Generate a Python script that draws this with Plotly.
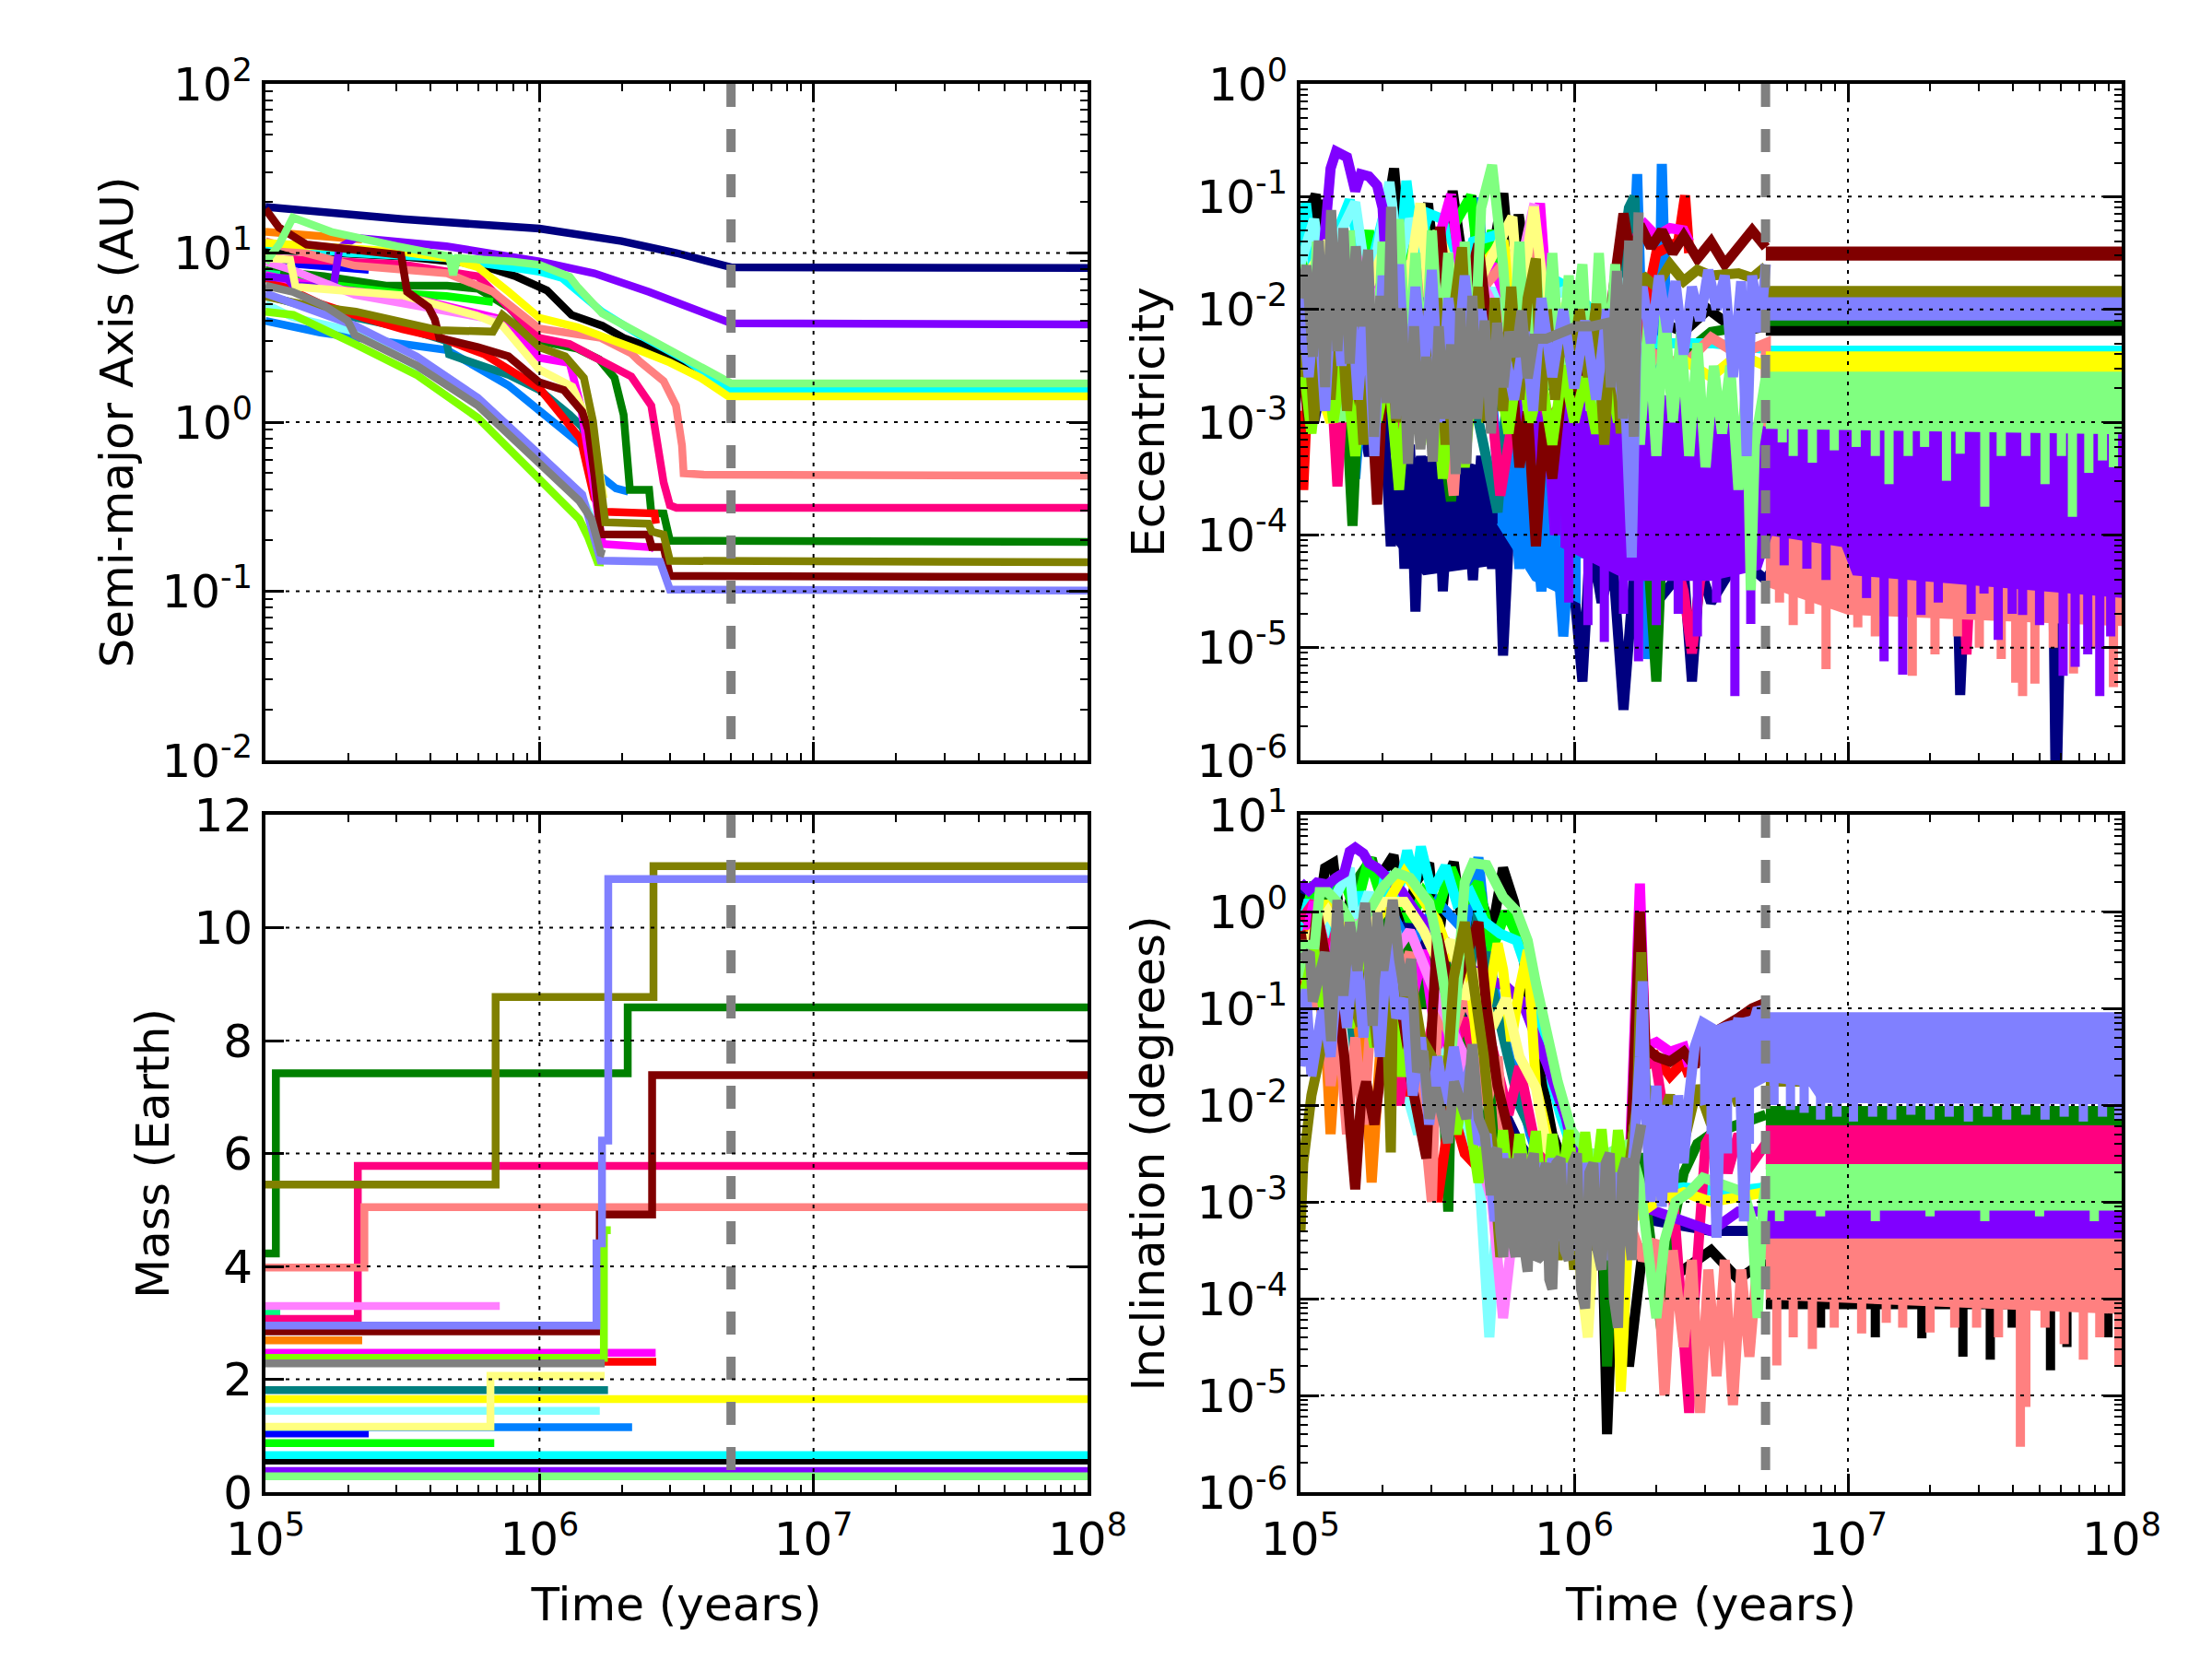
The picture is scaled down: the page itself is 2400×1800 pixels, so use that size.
import plotly.graph_objects as go

# ---------------------------------------------------------------------------
# Series (plot order, bottom -> top) and colours
# ---------------------------------------------------------------------------
NAMES = ['black', 'navy', 'blue', 'dodger', 'teal', 'green', 'lime', 'spring', 'cyan', 'lcyan',
         'red', 'dpink', 'magenta', 'orange', 'salmon', 'purple', 'pink', 'yellow', 'lyellow',
         'maroon', 'lgreen', 'chart', 'olive', 'peri', 'gray']
COLORS = ['#000000', '#000080', '#0000ff', '#0080ff', '#008080', '#008000', '#00ff00', '#00ff80',
          '#00ffff', '#80ffff', '#ff0000', '#ff0080', '#ff00ff', '#ff8000', '#ff8080', '#8000ff',
          '#ff80ff', '#ffff00', '#ffff80', '#800000', '#80ff80', '#80ff00', '#808000', '#8080ff',
          '#808080']

# ---------------------------------------------------------------------------
# Semi-major axis: (log10 time [yr], log10 a [AU])
# ---------------------------------------------------------------------------
SMA_NAVY = [(5.0, 1.272), (5.5, 1.2), (6.0, 1.144), (6.3, 1.07), (6.5, 1.0), (6.61, 0.958), (6.7, 0.915), (8.0, 0.912)]
SMA_PURPLE = [(5.0, 0.86), (5.08, 0.85), (5.1, 0.81), (5.2, 0.80), (5.25, 0.82), (5.27, 1.03), (5.33, 1.09),
              (5.66, 1.04), (6.0, 0.95), (6.2, 0.88), (6.4, 0.77), (6.6, 0.65), (6.7, 0.585), (8.0, 0.578)]
SMA_LGREEN = [(5.0, 0.944), (5.05, 1.05), (5.1, 1.21), (5.24, 1.125), (5.48, 1.04), (5.6, 1.0), (5.67, 0.98),
              (5.685, 0.87), (5.7, 0.97), (5.9, 0.95), (6.0, 0.93), (6.11, 0.86), (6.14, 0.797), (6.229, 0.643),
              (6.364, 0.525), (6.532, 0.371), (6.689, 0.243), (6.7, 0.229), (8.0, 0.229)]
SMA_CYAN = [(5.0, 1.05), (5.3, 1.0), (5.66, 0.97), (5.8, 0.94), (6.0, 0.89), (6.083, 0.852), (6.229, 0.652),
            (6.364, 0.516), (6.532, 0.37), (6.689, 0.198), (6.7, 0.192), (8.0, 0.192)]
SMA_BLACK = [(5.0, 1.02), (5.3, 1.0), (5.5, 0.98), (5.775, 0.934), (5.915, 0.861), (6.027, 0.779), (6.083, 0.679),
             (6.117, 0.634), (6.229, 0.57), (6.307, 0.498), (6.386, 0.452), (6.5, 0.36), (6.689, 0.2), (6.7, 0.19),
             (8.0, 0.19)]
SMA_YELLOW = [(5.0, 1.06), (5.3, 1.03), (5.5, 1.007), (5.66, 0.97), (5.775, 0.916), (5.887, 0.771), (6.0, 0.616),
              (6.139, 0.561), (6.251, 0.498), (6.364, 0.425), (6.476, 0.352), (6.588, 0.262), (6.689, 0.153),
              (8.0, 0.153)]
SMA_SALMON = [(5.0, 1.07), (5.1, 1.02), (5.326, 0.925), (5.663, 0.88), (5.83, 0.771), (6.0, 0.553),
              (6.224, 0.498), (6.335, 0.407), (6.364, 0.361), (6.453, 0.243), (6.498, 0.098), (6.52, -0.138),
              (6.526, -0.302), (6.6, -0.311), (8.0, -0.316)]
SMA_DPINK = [(5.0, 0.97), (5.326, 0.952), (5.495, 0.934), (5.775, 0.862), (6.0, 0.498), (6.11, 0.462),
             (6.223, 0.371), (6.335, 0.27), (6.408, 0.098), (6.431, -0.138), (6.453, -0.356), (6.476, -0.492),
             (6.5, -0.507), (8.0, -0.507)]
SMA_GREEN = [(5.0, 0.898), (5.214, 0.862), (5.44, 0.807), (5.663, 0.807), (5.775, 0.789), (5.887, 0.68),
             (6.0, 0.48), (6.139, 0.434), (6.218, 0.371), (6.274, 0.262), (6.307, 0.044), (6.324, -0.374),
             (6.33, -0.401), (6.4, -0.401), (6.408, -0.538), (6.453, -0.54), (6.476, -0.701), (8.0, -0.708)]
SMA_OLIVE = [(5.0, 0.743), (5.16, 0.689), (5.33, 0.653), (5.5, 0.589), (5.63, 0.544), (5.83, 0.535),
             (5.865, 0.634), (5.915, 0.57), (6.0, 0.443), (6.094, 0.389), (6.162, 0.262), (6.195, 0.007),
             (6.24, -0.592), (6.397, -0.6), (6.41, -0.647), (6.453, -0.665), (6.476, -0.82), (8.0, -0.828)]
SMA_MAROON = [(5.0, 1.26), (5.05, 1.15), (5.15, 1.05), (5.36, 1.007), (5.495, 0.989), (5.517, 0.771),
              (5.55, 0.734), (5.595, 0.68), (5.618, 0.607), (5.635, 0.498), (5.775, 0.444), (5.887, 0.389),
              (6.0, 0.235), (6.089, 0.19), (6.156, 0.062), (6.178, -0.047), (6.201, -0.319), (6.223, -0.664),
              (6.397, -0.665), (6.41, -0.738), (6.453, -0.738), (6.476, -0.91), (8.0, -0.916)]
SMA_PERI = [(5.0, 0.762), (5.326, 0.571), (5.551, 0.389), (5.775, 0.144), (6.0, -0.192), (6.156, -0.428),
            (6.223, -0.819), (6.44, -0.825), (6.476, -0.99), (8.0, -0.996)]
SMA_GRAY = [(5.0, 0.807), (5.1, 0.77), (5.214, 0.689), (5.3, 0.60), (5.326, 0.516), (5.551, 0.335),
            (5.775, 0.099), (6.0, -0.247), (6.145, -0.465), (6.19, -0.573), (6.223, -0.773), (6.238, -0.78)]
SMA_CHART = [(5.0, 0.653), (5.102, 0.634), (5.326, 0.462), (5.551, 0.28), (5.775, 0.026), (6.0, -0.337),
             (6.145, -0.573), (6.178, -0.682), (6.212, -0.828), (6.235, -0.83)]
SMA_LCYAN = [(5.0, 0.698), (5.1, 0.62), (5.326, 0.535), (5.775, 0.126), (6.0, -0.219), (6.156, -0.446),
             (6.2, -0.6), (6.22, -0.7)]
SMA_DODGER = [(5.0, 0.598), (5.1, 0.56), (5.2, 0.53), (5.33, 0.50), (5.45, 0.47), (5.663, 0.426), (5.887, 0.217),
              (6.0, 0.063), (6.11, -0.074), (6.156, -0.138), (6.223, -0.319), (6.279, -0.392), (6.324, -0.41)]
SMA_TEAL = [(5.0, 0.75), (5.2, 0.66), (5.36, 0.607), (5.5, 0.56), (5.66, 0.48), (5.67, 0.40), (5.887, 0.28),
            (6.0, 0.19), (6.11, 0.044), (6.156, -0.029), (6.178, -0.138), (6.212, -0.319), (6.235, -0.55)]
SMA_RED = [(5.0, 0.852), (5.2, 0.70), (5.36, 0.616), (5.5, 0.55), (5.64, 0.498), (5.8, 0.40), (6.0, 0.20),
           (6.15, -0.10), (6.2, -0.45), (6.24, -0.53), (6.42, -0.54), (6.425, -0.6)]
SMA_MAGENTA = [(5.0, 0.87), (5.2, 0.80), (5.5, 0.74), (5.585, 0.716), (5.865, 0.607), (6.0, 0.38), (6.11, 0.35),
               (6.15, 0.1), (6.2, -0.4), (6.23, -0.72), (6.41, -0.74), (6.42, -0.75)]
SMA_LIME = [(5.0, 0.86), (5.3, 0.80), (5.5, 0.76), (5.66, 0.745), (5.83, 0.71)]
SMA_LYELLOW = [(5.0, 0.97), (5.09, 0.96), (5.11, 0.80), (5.33, 0.77), (5.5, 0.75), (5.77, 0.63), (5.865, 0.57),
               (6.0, 0.31), (6.12, 0.21), (6.17, 0.03), (6.21, -0.2), (6.235, -0.45)]
SMA_PINK = [(5.0, 0.95), (5.1, 0.898), (5.326, 0.753), (5.495, 0.707), (5.663, 0.653), (5.83, 0.607), (5.855, 0.6)]
SMA_ORANGE = [(5.0, 1.125), (5.2, 1.10), (5.353, 1.08)]
SMA_SPRING = [(5.0, 0.88), (5.053, 0.87)]
SMA_BLUE = [(5.0, 0.95), (5.2, 0.92), (5.377, 0.9)]

# ---------------------------------------------------------------------------
# Mass (Earth masses): step changes (log10 time, mass); last point = end time
# ---------------------------------------------------------------------------
MASS_OLIVE = [(5.0, 5.45), (5.84, 8.77), (6.416, 11.09), (8.0, 11.09)]
MASS_PERI = [(5.0, 2.95), (6.208, 4.41), (6.228, 6.23), (6.251, 10.86), (8.0, 10.86)]
MASS_GREEN = [(5.0, 4.23), (5.038, 7.42), (6.322, 8.59), (8.0, 8.59)]
MASS_MAROON = [(5.0, 2.85), (6.22, 4.92), (6.411, 7.39), (8.0, 7.39)]
MASS_DPINK = [(5.0, 3.07), (5.337, 5.78), (8.0, 5.78)]
MASS_SALMON = [(5.0, 3.98), (5.361, 5.05), (8.0, 5.05)]
MASS_PINK = [(5.0, 3.30), (5.855, 3.30)]
MASS_SPRING = [(5.0, 3.19), (5.054, 3.19)]
MASS_ORANGE = [(5.0, 2.69), (5.353, 2.69)]
MASS_MAGENTA = [(5.0, 2.47), (6.424, 2.47)]
MASS_CHART = [(5.0, 2.38), (6.235, 4.64), (6.26, 4.64)]
MASS_GRAY = [(5.0, 2.28), (6.238, 2.28)]
MASS_RED = [(5.0, 2.31), (6.426, 2.31)]
MASS_LYELLOW = [(5.0, 1.16), (5.821, 2.06), (6.238, 2.06)]
MASS_TEAL = [(5.0, 1.81), (6.25, 1.81)]
MASS_YELLOW = [(5.0, 1.65), (8.0, 1.65)]
MASS_LCYAN = [(5.0, 1.44), (6.22, 1.44)]
MASS_DODGER = [(5.0, 1.15), (6.338, 1.15)]
MASS_BLUE = [(5.0, 1.04), (5.377, 1.04)]
MASS_LIME = [(5.0, 0.87), (5.835, 0.87)]
MASS_CYAN = [(5.0, 0.656), (8.0, 0.656)]
MASS_BLACK = [(5.0, 0.56), (8.0, 0.56)]
MASS_NAVY = [(5.0, 0.33), (8.0, 0.33)]
MASS_PURPLE = [(5.0, 0.375), (8.0, 0.375)]
MASS_LGREEN = [(5.0, 0.28), (8.0, 0.28)]

# ---------------------------------------------------------------------------
# Eccentricity: noisy traces (log10 time, log10 e) read at peaks / troughs
# ---------------------------------------------------------------------------
ECC_BLACK = [(5.0, -1.3), (5.056, -0.98), (5.07, -1.6), (5.09, -1.03), (5.15, -1.9), (5.2, -1.5), (5.26, -2.0),
             (5.342, -0.75), (5.38, -1.8), (5.466, -1.06), (5.5, -1.9), (5.556, -0.95), (5.6, -1.7), (5.65, -2.1),
             (5.713, -1.35), (5.741, -0.97), (5.77, -1.8), (5.797, -1.16), (5.85, -2.0), (5.95, -2.3), (6.1, -2.1),
             (6.2, -2.4), (6.3, -2.1), (6.4, -2.2), (6.49, -2.0), (6.6, -2.2), (6.7, -2.15)]
ECC_NAVY = [(5.0, -2.5), (5.05, -3.0), (5.1, -2.4), (5.15, -3.2), (5.2, -2.6), (5.25, -3.3), (5.3, -2.7),
            (5.33, -4.1), (5.36, -3.0), (5.38, -4.3), (5.4, -3.2), (5.42, -4.68), (5.44, -3.3), (5.47, -4.2),
            (5.5, -3.2), (5.52, -4.5), (5.55, -3.3), (5.58, -4.2), (5.6, -3.4), (5.63, -4.4), (5.66, -3.3),
            (5.7, -4.3), (5.72, -3.5), (5.74, -5.07), (5.77, -3.6), (5.8, -4.0), (5.85, -3.7), (5.9, -4.2),
            (5.95, -3.8), (6.0, -4.5), (6.03, -5.3), (6.06, -4.0), (6.1, -4.6), (6.14, -4.2), (6.18, -5.55),
            (6.22, -4.3), (6.3, -4.6), (6.4, -4.3), (6.43, -5.3), (6.46, -4.3), (6.5, -4.6), (6.6, -4.2),
            (6.7, -4.4), (6.8, -4.0), (7.0, -4.3), (7.3, -4.2), (7.4, -4.4), (7.41, -5.42), (7.43, -4.3),
            (7.6, -4.2), (7.75, -4.3), (7.76, -6.5), (7.78, -4.3), (8.0, -4.2)]
ECC_BLUE = [(5.0, -2.0), (5.1, -2.6), (5.2, -2.1), (5.3, -2.5), (5.377, -2.2)]
ECC_DODGER = [(5.0, -1.9), (5.1, -2.4), (5.15, -1.7), (5.2, -3.5), (5.25, -2.0), (5.3, -2.6), (5.35, -1.5),
              (5.4, -2.4), (5.5, -1.8), (5.6, -2.5), (5.65, -1.01), (5.7, -2.8), (5.73, -3.8), (5.76, -3.0),
              (5.8, -4.3), (5.84, -3.3), (5.88, -4.5), (5.92, -3.5), (5.96, -4.9), (6.0, -3.6), (6.04, -4.2),
              (6.1, -3.4), (6.15, -3.0), (6.2, -2.6), (6.23, -0.8), (6.25, -2.5), (6.27, -5.1), (6.29, -4.3),
              (6.31, -2.4), (6.32, -0.71), (6.338, -2.3)]
ECC_TEAL = [(5.0, -2.0), (5.1, -2.8), (5.2, -2.1), (5.3, -2.7), (5.4, -2.2), (5.5, -3.0), (5.6, -2.4),
            (5.67, -3.2), (5.72, -3.8), (5.76, -2.6), (5.85, -2.9), (5.95, -2.4), (6.05, -2.7), (6.15, -2.0),
            (6.2, -1.1), (6.22, -1.0), (6.23, -1.8)]
ECC_GREEN = [(5.0, -2.2), (5.1, -2.7), (5.15, -2.0), (5.19, -3.92), (5.22, -2.3), (5.3, -2.9), (5.4, -2.1),
             (5.5, -2.8), (5.55, -3.7), (5.6, -2.3), (5.7, -2.9), (5.8, -2.4), (5.9, -3.1), (6.0, -2.6),
             (6.1, -3.2), (6.2, -2.6), (6.26, -3.8), (6.3, -5.3), (6.33, -3.5), (6.4, -2.4), (6.5, -2.2),
             (6.6, -2.15), (6.7, -2.12)]
ECC_LIME = [(5.0, -1.5), (5.05, -2.2), (5.1, -1.4), (5.2, -2.0), (5.25, -1.3), (5.3, -2.3), (5.4, -1.5),
            (5.45, -1.2), (5.5, -2.0), (5.55, -1.3), (5.623, -0.99), (5.66, -1.8), (5.7, -1.3), (5.75, -2.0),
            (5.8, -1.6), (5.835, -2.0)]
ECC_SPRING = [(5.0, -1.9), (5.053, -2.2)]
ECC_CYAN = [(5.0, -1.5), (5.02, -1.06), (5.06, -1.9), (5.12, -1.4), (5.18, -1.03), (5.24, -1.8), (5.3, -1.2),
            (5.331, -1.01), (5.36, -1.7), (5.387, -0.86), (5.42, -1.5), (5.47, -1.15), (5.52, -1.2), (5.57, -1.9),
            (5.63, -1.4), (5.73, -1.33), (5.8, -2.0), (5.9, -1.7), (5.99, -1.82), (6.1, -2.1), (6.2, -1.9),
            (6.3, -2.3), (6.5, -2.3), (6.7, -2.35)]
ECC_LCYAN = [(5.0, -1.6), (5.05, -1.2), (5.1, -2.0), (5.15, -1.3), (5.2, -1.05), (5.25, -1.9), (5.325, -0.87),
             (5.36, -1.6), (5.4, -1.2), (5.45, -1.44), (5.5, -2.0), (5.55, -1.5), (5.6, -2.2), (5.7, -1.82),
             (5.8, -2.3), (5.9, -1.9), (6.0, -1.8), (6.1, -2.3), (6.2, -1.7), (6.22, -2.0)]
ECC_RED = [(5.0, -2.9), (5.01, -3.6), (5.03, -2.5), (5.1, -2.0), (5.2, -2.6), (5.3, -1.8), (5.4, -2.5),
           (5.5, -2.0), (5.6, -2.7), (5.7, -2.1), (5.8, -2.6), (5.9, -2.2), (6.0, -2.8), (6.1, -2.3), (6.2, -2.7),
           (6.3, -1.5), (6.38, -1.4), (6.405, -0.99), (6.42, -1.5)]
ECC_DPINK = [(5.0, -2.0), (5.05, -2.7), (5.1, -2.1), (5.135, -3.57), (5.17, -2.2), (5.25, -2.8), (5.33, -2.2),
             (5.35, -3.2), (5.4, -2.3), (5.5, -2.8), (5.6, -2.2), (5.7, -2.9), (5.73, -3.65), (5.8, -2.6),
             (5.9, -3.0), (6.0, -2.7), (6.1, -3.4), (6.2, -3.0), (6.3, -3.6), (6.4, -4.5), (6.43, -5.05),
             (6.46, -4.4), (6.55, -4.1), (6.7, -4.0), (6.8, -4.1), (7.0, -4.2), (7.2, -4.0), (7.42, -4.2),
             (7.433, -5.06), (7.45, -4.2), (7.7, -4.1), (8.0, -4.2)]
ECC_MAGENTA = [(5.0, -2.0), (5.1, -1.5), (5.2, -2.2), (5.3, -1.6), (5.4, -2.3), (5.5, -1.4), (5.55, -0.98),
               (5.6, -2.0), (5.7, -1.6), (5.8, -2.2), (5.875, -1.06), (5.9, -1.9), (6.0, -2.3), (6.1, -2.0),
               (6.2, -2.4), (6.23, -1.35), (6.26, -1.25), (6.3, -1.35), (6.35, -1.28), (6.4, -1.3), (6.42, -1.4)]
ECC_ORANGE = [(5.0, -1.8), (5.1, -2.4), (5.2, -1.9), (5.3, -2.3), (5.353, -2.0)]
ECC_SALMON = [(5.0, -2.0), (5.05, -2.6), (5.1, -1.9), (5.157, -2.83), (5.2, -2.0), (5.3, -2.5), (5.4, -1.8),
              (5.44, -1.58), (5.5, -2.4), (5.56, -3.65), (5.6, -2.0), (5.7, -1.7), (5.74, -1.6), (5.8, -2.3),
              (5.853, -1.17), (5.9, -2.3), (6.0, -2.6), (6.1, -2.3), (6.2, -2.8), (6.3, -2.4), (6.4, -2.5),
              (6.5, -2.25), (6.6, -2.4), (6.7, -2.3), (6.7, -3.7)]
ECC_PURPLE = [(5.0, -1.7), (5.04, -2.6), (5.08, -1.6), (5.11, -0.75), (5.13, -0.6), (5.17, -0.65), (5.2, -0.95),
              (5.22, -0.8), (5.25, -0.82), (5.28, -0.9), (5.3, -1.1), (5.33, -2.4), (5.36, -1.8), (5.4, -2.7),
              (5.44, -1.9), (5.48, -2.5), (5.52, -2.0), (5.56, -2.9), (5.6, -2.1), (5.64, -2.7), (5.68, -2.2),
              (5.72, -2.6), (5.76, -2.3), (5.8, -3.0), (5.84, -2.5), (5.88, -3.4), (5.9, -2.9), (5.93, -4.0),
              (5.95, -3.05)]
ECC_PINK = [(5.0, -1.7), (5.1, -2.2), (5.2, -1.5), (5.3, -2.1), (5.4, -1.6), (5.47, -1.52), (5.55, -2.0),
            (5.65, -1.7), (5.75, -2.2), (5.83, -1.3), (5.855, -1.06)]
ECC_YELLOW = [(5.0, -2.2), (5.11, -3.0), (5.2, -2.0), (5.3, -2.5), (5.4, -1.9), (5.5, -2.3), (5.6, -1.8),
              (5.741, -1.39), (5.8, -2.2), (5.9, -2.6), (6.0, -2.3), (6.1, -2.7), (6.2, -2.4), (6.3, -2.6),
              (6.4, -2.45), (6.5, -2.6), (6.6, -2.4), (6.7, -2.5)]
ECC_LYELLOW = [(5.0, -1.8), (5.1, -1.4), (5.2, -2.1), (5.3, -1.5), (5.38, -2.0), (5.438, -1.06), (5.47, -1.9),
               (5.5, -1.3), (5.6, -2.0), (5.7, -1.5), (5.774, -1.18), (5.8, -2.0), (5.853, -1.09), (5.9, -2.1),
               (6.0, -1.9), (6.1, -2.5), (6.2, -2.2), (6.235, -2.0)]
ECC_MAROON = [(5.0, -2.4), (5.03, -3.0), (5.06, -2.2), (5.1, -2.8), (5.15, -2.3), (5.2, -3.0), (5.25, -2.4),
              (5.28, -3.73), (5.31, -2.2), (5.36, -2.7), (5.41, -2.1), (5.46, -2.6), (5.51, -1.27), (5.55, -2.3),
              (5.6, -1.9), (5.65, -1.42), (5.7, -2.5), (5.76, -2.2), (5.8, -3.4), (5.83, -2.9), (5.86, -4.1),
              (5.89, -3.0), (5.92, -3.5), (5.96, -2.6), (6.0, -2.8), (6.05, -2.2), (6.1, -2.6), (6.15, -1.7),
              (6.18, -1.15), (6.21, -1.6), (6.24, -1.25), (6.28, -1.45), (6.32, -1.3), (6.36, -1.5), (6.4, -1.35),
              (6.45, -1.55), (6.5, -1.4), (6.55, -1.6), (6.6, -1.45), (6.65, -1.3), (6.7, -1.45)]
ECC_LGREEN = [(5.0, -1.6), (5.03, -2.8), (5.06, -1.4), (5.09, -2.6), (5.12, -1.5), (5.15, -3.0), (5.18, -1.3),
              (5.21, -2.5), (5.24, -1.6), (5.27, -2.9), (5.3, -1.4), (5.33, -2.4), (5.36, -1.2), (5.39, -2.6),
              (5.42, -1.5), (5.45, -2.8), (5.48, -1.3), (5.51, -2.5), (5.54, -1.5), (5.57, -2.9), (5.6, -1.4),
              (5.63, -2.7), (5.66, -1.1), (5.7, -0.72), (5.74, -1.6), (5.77, -2.6), (5.8, -1.4), (5.83, -2.9),
              (5.86, -1.6), (5.89, -2.7), (5.92, -1.5), (5.95, -2.6), (5.98, -1.7), (6.0, -2.2), (6.03, -1.6),
              (6.06, -2.9), (6.09, -1.5), (6.12, -2.6), (6.15, -1.6), (6.18, -3.0), (6.21, -2.0), (6.24, -3.2),
              (6.27, -2.1), (6.3, -3.3), (6.33, -2.0), (6.36, -3.0), (6.39, -2.2), (6.42, -3.3), (6.45, -2.3),
              (6.48, -3.4), (6.51, -2.5), (6.54, -3.1), (6.57, -2.5), (6.6, -3.6), (6.63, -2.6), (6.645, -4.49),
              (6.66, -3.2), (6.7, -2.6)]
ECC_CHART = [(5.0, -2.3), (5.04, -3.1), (5.08, -2.2), (5.12, -3.0), (5.16, -2.4), (5.2, -3.3), (5.24, -2.3),
             (5.28, -3.0), (5.32, -2.5), (5.36, -3.6), (5.4, -2.4), (5.44, -3.2), (5.48, -2.3), (5.52, -3.5),
             (5.56, -2.5), (5.6, -3.4), (5.64, -2.3), (5.68, -3.0), (5.72, -2.5), (5.76, -3.1), (5.8, -2.4),
             (5.84, -3.0), (5.88, -2.6), (5.92, -3.2), (5.96, -2.5), (6.0, -3.0), (6.04, -2.6), (6.08, -3.1),
             (6.12, -2.5), (6.16, -3.0), (6.2, -2.4), (6.22, -2.8)]
ECC_OLIVE = [(5.0, -2.6), (5.02, -1.9), (5.05, -3.0), (5.08, -1.8), (5.11, -2.8), (5.14, -1.7), (5.17, -2.9),
             (5.2, -2.0), (5.23, -3.2), (5.26, -2.1), (5.29, -2.7), (5.32, -1.9), (5.35, -3.0), (5.38, -2.2),
             (5.41, -3.1), (5.44, -2.0), (5.47, -2.9), (5.5, -1.9), (5.53, -3.2), (5.56, -2.0), (5.59, -1.45),
             (5.62, -2.8), (5.65, -1.8), (5.68, -3.0), (5.71, -1.9), (5.74, -2.9), (5.77, -1.8), (5.8, -2.8),
             (5.83, -1.9), (5.86, -1.55), (5.88, -2.9), (5.9, -2.0), (5.93, -2.8), (5.96, -2.1), (5.99, -2.5),
             (6.02, -2.0), (6.05, -2.6), (6.08, -1.95), (6.11, -3.2), (6.14, -2.0), (6.17, -3.1), (6.2, -1.9),
             (6.22, -2.2), (6.25, -1.7), (6.3, -1.8), (6.35, -1.6), (6.4, -1.75), (6.45, -1.65), (6.5, -1.7),
             (6.55, -1.7), (6.6, -1.68), (6.65, -1.72), (6.7, -1.62)]
ECC_PERI = [(5.0, -1.9), (5.03, -2.6), (5.06, -1.8), (5.09, -2.9), (5.12, -1.6), (5.15, -2.5), (5.18, -1.7),
            (5.21, -2.8), (5.24, -1.9), (5.27, -3.3), (5.3, -1.7), (5.33, -2.7), (5.36, -1.6), (5.39, -2.9),
            (5.42, -1.8), (5.45, -2.6), (5.48, -1.65), (5.51, -3.0), (5.54, -1.9), (5.57, -2.5), (5.6, -1.7),
            (5.63, -2.4), (5.66, -2.0), (5.7, -2.7), (5.74, -2.3), (5.78, -2.8), (5.82, -2.2), (5.85, -2.9),
            (5.88, -1.9), (5.92, -2.6), (5.96, -2.0), (6.0, -2.7), (6.04, -2.1), (6.08, -2.8), (6.12, -2.0),
            (6.16, -2.6), (6.19, -3.0), (6.21, -4.2), (6.23, -2.0), (6.25, -1.8), (6.28, -2.3), (6.31, -1.7),
            (6.34, -2.2), (6.37, -1.75), (6.4, -2.4), (6.43, -1.8), (6.46, -2.1), (6.49, -1.65), (6.52, -2.0),
            (6.55, -1.7), (6.58, -2.6), (6.61, -1.75), (6.63, -3.3), (6.65, -1.7), (6.68, -2.2), (6.7, -1.6)]
ECC_GRAY = [(5.0, -1.9), (5.022, -1.61), (5.045, -2.42), (5.067, -1.39), (5.09, -2.69), (5.112, -1.12),
            (5.135, -2.37), (5.157, -1.28), (5.18, -2.48), (5.202, -1.44), (5.224, -2.15), (5.247, -1.47),
            (5.269, -3.13), (5.292, -1.88), (5.314, -2.83), (5.331, -1.09), (5.348, -2.97), (5.37, -1.99),
            (5.393, -3.37), (5.415, -2.15), (5.438, -3.24), (5.46, -2.42), (5.483, -3.35), (5.505, -2.15),
            (5.527, -2.97), (5.55, -2.31), (5.567, -3.46), (5.584, -1.99), (5.606, -3.37), (5.628, -1.88),
            (5.645, -2.97), (5.673, -2.10), (5.696, -3.10), (5.718, -2.12), (5.741, -2.69), (5.763, -2.20),
            (5.786, -2.42), (5.808, -2.01), (5.83, -2.61), (5.853, -2.26), (5.898, -2.26), (5.954, -2.20),
            (6.01, -2.15), (6.066, -2.15), (6.122, -2.12), (6.134, -2.69), (6.156, -1.66), (6.178, -2.97),
            (6.201, -1.39), (6.218, -3.13), (6.235, -1.14)]

# Eccentricity: solid-looking bands (top edge, bottom edge) and downward spikes (base, tips)
ECC_BAND_NAVY = ([(5.32, -3.35), (5.5, -3.3), (5.75, -3.45)], [(5.32, -4.0), (5.45, -4.35), (5.6, -4.3), (5.75, -4.25)])
ECC_BAND_DODGER = ([(5.72, -3.0), (5.9, -3.1), (6.02, -3.3)], [(5.72, -3.9), (5.85, -4.4), (6.02, -4.6)])
ECC_BAND_MAROON = ([(6.7, -1.45), (8.0, -1.45)], [(6.7, -1.56), (8.0, -1.56)])
ECC_BAND_OLIVE = ([(6.7, -1.80), (8.0, -1.80)], [(6.7, -1.90), (8.0, -1.90)])
ECC_BAND_PERI = ([(6.7, -1.90), (8.0, -1.90)], [(6.7, -2.09), (8.0, -2.09)])
ECC_BAND_GREEN = ([(6.7, -2.08), (8.0, -2.08)], [(6.7, -2.14), (8.0, -2.14)])
ECC_BAND_BLACK = ([(6.7, -2.11), (8.0, -2.11)], [(6.7, -2.225), (8.0, -2.225)])
ECC_BAND_CYAN = ([(6.7, -2.33), (8.0, -2.33)], [(6.7, -2.43), (8.0, -2.43)])
ECC_BAND_YELLOW = ([(6.7, -2.38), (8.0, -2.38)], [(6.7, -2.61), (8.0, -2.61)])
ECC_BAND_LGREEN = ([(6.7, -2.56), (8.0, -2.56)], [(6.7, -3.05), (8.0, -3.1)])
ECC_BAND_PURPLE = ([(5.95, -2.6), (6.4, -2.8), (6.7, -3.05), (8.0, -3.05)],
                   [(5.95, -4.1), (6.2, -4.4), (6.5, -4.4), (6.68, -4.3), (6.72, -4.0), (6.98, -4.1),
                    (7.02, -4.35), (7.5, -4.45), (8.0, -4.55)])
ECC_BAND_SALMON = ([(6.7, -3.6), (8.0, -3.6)], [(6.7, -4.45), (7.0, -4.7), (8.0, -4.8)])
ECC_SPIKES_LGREEN = (-2.9, [(6.76, -3.18), (6.8, -3.3), (6.87, -3.36), (6.95, -3.25), (7.03, -3.22), (7.1, -3.3),
                            (7.15, -3.55), (7.22, -3.3), (7.28, -3.22), (7.36, -3.52), (7.41, -3.28), (7.5, -3.75),
                            (7.56, -3.3), (7.65, -3.3), (7.72, -3.55), (7.78, -3.3), (7.82, -3.84), (7.88, -3.45),
                            (7.93, -3.34), (7.97, -3.4)])
ECC_SPIKES_PURPLE = (-3.9, [(5.98, -4.6), (6.05, -4.8), (6.11, -4.95), (6.18, -4.7), (6.235, -5.12), (6.3, -4.8),
                            (6.38, -4.7), (6.45, -4.9), (6.52, -4.6), (6.587, -5.43), (6.645, -4.79),
                            (6.767, -4.27), (6.85, -4.3), (6.92, -4.4), (7.068, -4.56), (7.132, -5.12),
                            (7.2, -5.24), (7.267, -4.71), (7.33, -4.6), (7.395, -4.33), (7.45, -4.7),
                            (7.497, -4.52), (7.549, -4.93), (7.6, -4.7), (7.638, -4.71), (7.7, -4.8),
                            (7.786, -5.25), (7.83, -5.17), (7.876, -5.06), (7.92, -5.43), (7.96, -4.9)])
ECC_SPIKES_SALMON = (-4.2, [(6.75, -4.6), (6.8, -4.8), (6.86, -4.7), (6.92, -5.19), (7.036, -4.82), (7.1, -4.9),
                            (7.235, -5.25), (7.318, -5.06), (7.4, -4.9), (7.48, -5.0), (7.56, -5.1),
                            (7.613, -5.31), (7.638, -5.43), (7.683, -5.32), (7.75, -5.0), (7.824, -5.23),
                            (7.9, -5.0), (7.97, -5.35)])

# ---------------------------------------------------------------------------
# Inclination (degrees): noisy traces (log10 time, log10 i)
# ---------------------------------------------------------------------------
INC_BLACK = [(5.0, 0.2), (5.05, -0.3), (5.09, 0.45), (5.12, 0.5), (5.15, -0.2), (5.2, 0.3), (5.25, -0.4),
             (5.3, 0.4), (5.34, 0.58), (5.38, -0.2), (5.42, 0.3), (5.47, 0.5), (5.5, -0.4), (5.53, 0.3),
             (5.56, 0.51), (5.6, -0.3), (5.65, 0.2), (5.7, -0.2), (5.74, 0.45), (5.78, 0.1), (5.81, -0.39),
             (5.85, -1.2), (5.9, -2.0), (5.92, -2.3), (5.96, -2.6), (6.0, -3.0), (6.05, -3.4), (6.1, -3.0),
             (6.12, -5.4), (6.15, -3.2), (6.2, -4.7), (6.25, -3.5), (6.3, -3.6), (6.4, -3.7), (6.5, -3.5),
             (6.6, -3.8), (6.7, -3.6)]
INC_NAVY = [(5.0, 0.25), (5.04, 0.2), (5.08, 0.12), (5.12, -0.3), (5.2, 0.1), (5.3, -0.4), (5.4, -0.1),
            (5.5, -0.6), (5.6, -1.0), (5.7, -1.8), (5.8, -2.4), (5.9, -2.8), (6.0, -3.0), (6.1, -3.2), (6.2, -3.0),
            (6.3, -3.2), (6.5, -3.3), (6.7, -3.3)]
INC_BLUE = [(5.0, 0.0), (5.1, -0.5), (5.2, 0.1), (5.3, -0.4), (5.377, -0.2)]
INC_DODGER = [(5.0, -0.2), (5.1, 0.3), (5.2, -0.3), (5.3, 0.2), (5.4, -0.4), (5.5, 0.1), (5.6, -0.2),
              (5.65, 0.56), (5.68, -0.3), (5.72, -1.0), (5.78, -1.6), (5.84, -2.3), (5.9, -2.8), (6.0, -3.2),
              (6.1, -3.0), (6.2, -3.3), (6.24, -0.1), (6.26, -1.8), (6.3, -2.0), (6.338, -2.1)]
INC_TEAL = [(5.0, -0.5), (5.05, 0.0), (5.1, -0.6), (5.15, -0.2), (5.2, -1.5), (5.25, -0.5), (5.3, -1.0),
            (5.35, -0.3), (5.4, -0.9), (5.5, -0.5), (5.6, -1.0), (5.66, 0.2), (5.7, -0.8), (5.8, -2.0),
            (5.9, -2.6), (6.0, -3.0), (6.1, -3.2), (6.2, -3.0), (6.22, -2.8)]
INC_GREEN = [(5.0, 0.0), (5.05, -0.8), (5.1, 0.2), (5.15, -0.6), (5.2, 0.3), (5.26, 0.55), (5.3, 0.1),
             (5.35, -0.7), (5.4, -0.2), (5.45, -1.0), (5.5, -0.3), (5.54, -3.1), (5.56, -0.5), (5.6, -1.5),
             (5.65, -2.7), (5.7, -1.8), (5.75, -2.6), (5.8, -2.4), (5.85, -3.0), (5.9, -2.6), (5.95, -3.3),
             (6.0, -2.8), (6.05, -3.5), (6.1, -2.9), (6.12, -4.7), (6.15, -3.0), (6.2, -3.4), (6.24, -2.5),
             (6.27, -3.2), (6.3, -3.7), (6.32, -4.36), (6.35, -3.4), (6.4, -2.7), (6.45, -2.4), (6.5, -2.3),
             (6.6, -2.2), (6.7, -2.1)]
INC_LIME = [(5.0, -0.2), (5.05, 0.3), (5.1, -0.2), (5.15, 0.4), (5.2, 0.0), (5.25, 0.55), (5.3, 0.1),
            (5.35, 0.3), (5.4, -0.1), (5.45, 0.2), (5.5, 0.0), (5.55, 0.45), (5.6, 0.1), (5.65, 0.3),
            (5.7, -0.4), (5.75, 0.0), (5.8, -0.3), (5.835, -0.5)]
INC_SPRING = [(5.0, -0.3), (5.053, -0.1)]
INC_CYAN = [(5.0, -0.2), (5.03, 0.12), (5.07, -0.5), (5.12, 0.1), (5.17, -0.4), (5.22, 0.2), (5.27, -0.3),
            (5.31, 0.4), (5.35, 0.1), (5.39, 0.63), (5.42, 0.3), (5.44, 0.67), (5.48, 0.2), (5.53, 0.47),
            (5.57, 0.1), (5.62, 0.2), (5.67, -0.1), (5.73, -0.23), (5.79, -0.3), (5.85, -0.8), (5.9, -1.44),
            (5.92, -1.79), (5.95, -2.1), (5.98, -2.35), (6.05, -2.6), (6.15, -2.8), (6.25, -2.9), (6.4, -2.85),
            (6.55, -2.9), (6.7, -2.85)]
INC_LCYAN = [(5.0, -0.4), (5.05, -0.8), (5.1, 0.0), (5.15, 0.3), (5.18, 0.45), (5.2, -0.2), (5.25, 0.2),
             (5.3, -0.5), (5.35, -0.2), (5.4, -2.0), (5.43, -2.3), (5.47, -1.5), (5.5, -1.2), (5.55, -1.8),
             (5.6, -2.2), (5.65, -2.6), (5.69, -4.4), (5.72, -3.0), (5.8, -3.3), (5.9, -2.9), (6.0, -3.5),
             (6.1, -3.0), (6.2, -2.4), (6.22, -2.3)]
INC_RED = [(5.0, -0.8), (5.1, -0.3), (5.2, -1.0), (5.3, -0.6), (5.4, -1.9), (5.45, -1.5), (5.5, -3.0),
           (5.55, -2.0), (5.6, -2.5), (5.7, -2.8), (5.8, -3.2), (5.9, -2.9), (6.0, -3.3), (6.1, -3.0),
           (6.2, -3.2), (6.24, -0.2), (6.26, -1.6), (6.3, -1.5), (6.35, -1.7), (6.4, -1.55), (6.42, -1.7)]
INC_DPINK = [(5.0, -0.1), (5.05, 0.1), (5.1, -0.5), (5.15, 0.0), (5.2, -0.7), (5.25, -0.2), (5.3, -1.0),
             (5.36, -2.0), (5.4, -1.2), (5.45, -1.6), (5.5, -0.9), (5.55, -1.5), (5.6, -1.1), (5.65, -1.7),
             (5.7, -1.4), (5.76, -2.1), (5.8, -1.6), (5.85, -2.3), (5.9, -2.5), (5.95, -3.0), (6.0, -2.6),
             (6.05, -3.3), (6.1, -2.8), (6.15, -3.3), (6.2, -2.9), (6.24, -0.1), (6.26, -1.5), (6.3, -1.6),
             (6.35, -2.5), (6.4, -4.6), (6.42, -5.18), (6.44, -4.0), (6.48, -2.4), (6.52, -2.2), (6.56, -2.7),
             (6.6, -2.3), (6.65, -2.6), (6.7, -2.4)]
INC_MAGENTA = [(5.0, -0.5), (5.05, 0.1), (5.1, -0.6), (5.15, -0.1), (5.2, -0.9), (5.25, -0.3), (5.3, -1.2),
               (5.35, -0.6), (5.4, -1.0), (5.45, -0.4), (5.5, -1.4), (5.55, -1.0), (5.6, -1.8), (5.65, -2.2),
               (5.7, -2.6), (5.75, -3.5), (5.8, -2.8), (5.85, -3.3), (5.9, -2.7), (5.95, -3.4), (6.0, -2.9),
               (6.1, -3.2), (6.2, -2.8), (6.24, 0.29), (6.26, -1.4), (6.3, -1.35), (6.35, -1.45), (6.4, -1.4),
               (6.42, -1.6)]
INC_ORANGE = [(5.0, -0.5), (5.03, -0.2), (5.06, -0.8), (5.09, -1.2), (5.11, -2.3), (5.14, -1.0), (5.17, -0.3),
              (5.2, -0.9), (5.24, -1.8), (5.26, -2.8), (5.29, -1.5), (5.32, -0.8), (5.353, -1.0)]
INC_SALMON = [(5.0, -0.5), (5.05, -1.0), (5.08, -0.6), (5.11, -1.8), (5.14, -1.2), (5.17, -2.3), (5.2, -1.3),
              (5.23, -2.2), (5.26, -1.0), (5.3, -0.5), (5.35, -0.8), (5.4, -0.42), (5.43, -1.5), (5.46, -2.5),
              (5.48, -3.0), (5.5, -1.0), (5.55, -1.3), (5.6, -0.9), (5.65, -1.2), (5.68, -2.0), (5.72, -1.5),
              (5.76, -3.0), (5.8, -2.5), (5.85, -3.6), (5.9, -2.8), (5.95, -3.5), (6.0, -2.9), (6.05, -3.6),
              (6.1, -3.0), (6.15, -3.7), (6.2, -3.2), (6.25, -3.6), (6.3, -3.4), (6.33, -5.0), (6.36, -3.5),
              (6.4, -4.5), (6.43, -3.6), (6.46, -5.18), (6.49, -3.7), (6.52, -4.8), (6.55, -3.6), (6.58, -5.1),
              (6.61, -3.7), (6.64, -4.6), (6.67, -3.6), (6.7, -3.5)]
INC_PURPLE = [(5.0, 0.3), (5.03, 0.22), (5.06, 0.3), (5.1, 0.28), (5.13, 0.35), (5.16, 0.4), (5.18, 0.62),
              (5.2, 0.66), (5.23, 0.6), (5.25, 0.5), (5.28, 0.45), (5.3, 0.4), (5.33, 0.3), (5.37, 0.21),
              (5.42, 0.0), (5.48, -0.2), (5.54, -0.33), (5.58, -0.61), (5.6, -0.75), (5.63, -0.6), (5.68, -0.7),
              (5.75, -0.77), (5.81, -0.93), (5.86, -1.3), (5.9, -1.57), (5.97, -2.14), (5.99, -2.39),
              (6.05, -2.6), (6.1, -2.8), (6.2, -3.0), (6.3, -3.1), (6.4, -3.2), (6.5, -3.3), (6.6, -3.1),
              (6.7, -3.1)]
INC_PINK = [(5.0, -0.3), (5.1, -0.8), (5.2, -0.1), (5.3, -0.6), (5.4, -0.2), (5.5, -0.9), (5.6, -1.5),
            (5.65, -2.5), (5.7, -3.0), (5.74, -4.2), (5.78, -3.2), (5.83, -3.6), (5.855, -3.0)]
INC_YELLOW = [(5.0, -0.5), (5.1, 0.1), (5.2, -0.4), (5.3, 0.0), (5.38, 0.4), (5.45, 0.1), (5.5, -0.1),
              (5.55, -0.5), (5.6, -0.2), (5.65, -1.5), (5.7, -0.7), (5.72, -0.33), (5.74, -0.6), (5.77, -1.34),
              (5.8, -0.8), (5.83, -0.4), (5.86, -1.8), (5.9, -2.3), (5.95, -2.7), (6.0, -3.0), (6.05, -2.8),
              (6.1, -3.4), (6.15, -3.0), (6.17, -4.96), (6.2, -3.2), (6.3, -3.0), (6.4, -2.9), (6.5, -3.0),
              (6.7, -2.9)]
INC_LYELLOW = [(5.0, -0.4), (5.1, 0.0), (5.2, -0.5), (5.3, 0.1), (5.38, 0.1), (5.45, -0.2), (5.5, -0.5),
               (5.55, -0.3), (5.6, -0.9), (5.65, -0.6), (5.7, -1.2), (5.75, -0.9), (5.8, -1.5), (5.86, -1.82),
               (5.9, -2.45), (5.95, -2.6), (6.0, -3.2), (6.05, -4.4), (6.08, -3.0), (6.15, -3.5), (6.2, -3.0),
               (6.235, -2.8)]
INC_MAROON = [(5.0, -0.2), (5.03, -0.8), (5.06, 0.0), (5.1, -0.6), (5.13, -0.8), (5.16, -1.5), (5.2, -2.87),
              (5.22, -2.0), (5.24, -1.76), (5.27, -2.2), (5.3, -1.5), (5.34, -0.8), (5.38, -1.4), (5.42, -2.0),
              (5.46, -2.55), (5.48, -1.2), (5.5, -0.23), (5.53, -0.6), (5.56, -0.9), (5.6, -0.5), (5.65, -0.11),
              (5.68, -1.0), (5.72, -1.8), (5.78, -2.5), (5.84, -3.0), (5.9, -2.7), (5.96, -3.2), (6.02, -2.8),
              (6.08, -3.3), (6.14, -2.9), (6.2, -3.0), (6.24, 0.0), (6.26, -1.4), (6.3, -1.5), (6.35, -1.55),
              (6.4, -1.45), (6.44, -1.6), (6.48, -1.3), (6.55, -1.2), (6.6, -1.1), (6.65, -1.0), (6.7, -0.94)]
INC_LGREEN = [(5.0, -0.7), (5.02, -0.3), (5.04, -0.7), (5.07, 0.2), (5.1, 0.2), (5.15, 0.05), (5.2, -0.2),
              (5.25, 0.0), (5.3, 0.25), (5.35, 0.4), (5.4, 0.35), (5.43, 0.24), (5.47, 0.09), (5.5, -0.3),
              (5.53, -0.87), (5.55, -1.5), (5.57, -0.9), (5.6, 0.3), (5.63, 0.5), (5.68, 0.48), (5.74, 0.15),
              (5.79, 0.0), (5.83, -0.3), (5.86, -0.74), (5.9, -1.25), (5.94, -1.76), (5.99, -2.26), (6.05, -2.5),
              (6.12, -2.5), (6.2, -2.4), (6.24, -2.8), (6.27, -3.6), (6.3, -4.2), (6.33, -3.4), (6.37, -3.0),
              (6.42, -2.9), (6.47, -2.75), (6.52, -2.8), (6.57, -2.85), (6.62, -2.9), (6.65, -3.2),
              (6.67, -4.2), (6.69, -3.0), (6.7, -2.8)]
INC_CHART = [(5.0, -1.0), (5.05, -0.4), (5.1, -1.3), (5.15, -0.6), (5.18, -1.2), (5.22, -0.5), (5.27, -1.4),
             (5.32, -0.8), (5.37, -1.7), (5.42, -1.1), (5.47, -2.0), (5.52, -1.5), (5.57, -2.3), (5.6, -1.8),
             (5.65, -2.8), (5.68, -2.28), (5.71, -3.0), (5.74, -2.26), (5.77, -3.1), (5.8, -2.3), (5.83, -2.9),
             (5.86, -2.27), (5.89, -3.2), (5.92, -2.3), (5.95, -2.9), (5.98, -2.26), (6.01, -3.1), (6.04, -2.28),
             (6.07, -3.0), (6.1, -2.25), (6.13, -3.2), (6.16, -2.26), (6.19, -2.9), (6.22, -2.2), (6.235, -2.3)]
INC_OLIVE = [(5.0, -3.3), (5.01, -2.6), (5.04, -1.9), (5.07, -1.5), (5.1, -1.1), (5.13, -0.9), (5.17, -0.68),
             (5.2, -1.0), (5.22, -1.18), (5.25, -0.6), (5.28, -1.4), (5.31, -0.5), (5.33, -2.49), (5.34, -0.39),
             (5.37, -1.0), (5.4, -0.6), (5.44, -1.3), (5.48, -1.5), (5.53, -1.98), (5.56, -0.68), (5.6, -0.11),
             (5.63, -0.7), (5.67, -1.5), (5.7, -2.4), (5.73, -3.57), (5.76, -2.6), (5.79, -2.77), (5.82, -3.2),
             (5.85, -2.6), (5.88, -3.4), (5.91, -2.7), (5.94, -3.6), (5.97, -2.8), (6.0, -3.7), (6.03, -2.9),
             (6.06, -3.5), (6.09, -2.7), (6.12, -3.3), (6.15, -2.8), (6.18, -3.1), (6.21, -2.5), (6.23, -1.98),
             (6.245, -0.42), (6.26, -1.8), (6.3, -2.3), (6.35, -1.9), (6.4, -2.4), (6.45, -1.8), (6.5, -2.2),
             (6.55, -1.6), (6.6, -2.0), (6.7, -1.5)]
INC_PERI = [(5.0, -1.6), (5.02, -0.8), (5.04, -1.7), (5.08, -1.0), (5.11, -1.5), (5.14, -0.5), (5.17, -1.2),
            (5.2, -0.3), (5.23, -1.3), (5.26, -0.4), (5.29, -1.5), (5.32, -0.2), (5.35, -1.1), (5.38, -0.9),
            (5.41, -1.9), (5.44, -1.3), (5.47, -2.2), (5.5, -1.5), (5.53, -2.0), (5.56, -1.4), (5.59, -1.9),
            (5.62, -1.6), (5.65, -2.4), (5.68, -2.3), (5.71, -3.2), (5.74, -2.5), (5.77, -3.3), (5.8, -2.6),
            (5.83, -3.5), (5.86, -2.6), (5.89, -3.3), (5.92, -2.55), (5.95, -3.4), (5.98, -2.6), (6.01, -3.5),
            (6.04, -2.6), (6.07, -3.3), (6.1, -2.6), (6.13, -3.6), (6.16, -2.7), (6.19, -3.2), (6.22, -2.4),
            (6.24, -1.5), (6.25, -0.72), (6.26, -2.0), (6.28, -3.0), (6.3, -1.8), (6.32, -3.05), (6.34, -2.0),
            (6.36, -2.9), (6.38, -1.9), (6.4, -2.6), (6.42, -1.9), (6.44, -1.4), (6.47, -1.15), (6.5, -1.2),
            (6.52, -3.37), (6.54, -1.2), (6.57, -1.5), (6.6, -1.1), (6.62, -3.2), (6.64, -1.3), (6.67, -1.0),
            (6.7, -1.1)]
INC_GRAY = [(5.0, -0.5), (5.034, -0.42), (5.045, -0.93), (5.09, -0.42), (5.112, -1.34), (5.135, 0.12),
            (5.157, -0.87), (5.18, -0.11), (5.208, -0.61), (5.236, 0.09), (5.264, -1.18), (5.281, -0.01),
            (5.303, -0.61), (5.337, 0.12), (5.36, -0.49), (5.382, -0.87), (5.404, -0.49), (5.426, -1.66),
            (5.449, -1.44), (5.471, -2.14), (5.494, -1.82), (5.516, -2.07), (5.539, -2.39), (5.561, -1.76),
            (5.584, -1.98), (5.606, -2.14), (5.628, -1.37), (5.651, -2.14), (5.673, -2.3), (5.685, -2.6),
            (5.696, -2.93), (5.707, -2.5), (5.718, -2.45), (5.73, -3.3), (5.741, -3.57), (5.752, -2.6),
            (5.763, -2.6), (5.775, -3.4), (5.786, -3.57), (5.797, -2.55), (5.808, -2.55), (5.819, -3.5),
            (5.83, -3.72), (5.842, -2.6), (5.853, -2.5), (5.864, -3.6), (5.875, -3.57), (5.887, -2.7),
            (5.898, -2.6), (5.909, -3.8), (5.92, -3.9), (5.935, -2.6), (5.95, -2.55), (5.965, -3.5),
            (5.98, -3.6), (5.995, -2.6), (6.01, -2.5), (6.025, -3.9), (6.04, -4.1), (6.055, -2.7),
            (6.07, -2.6), (6.085, -3.5), (6.1, -3.7), (6.115, -2.6), (6.13, -2.5), (6.145, -4.0),
            (6.16, -4.3), (6.175, -2.7), (6.19, -2.55), (6.2, -3.3), (6.21, -3.6), (6.22, -2.6),
            (6.23, -2.4), (6.245, -2.2)]

# Inclination after 5 Myr: band top / bottom and downward spikes
INC_BAND_NAVY = ([(6.7, -3.2), (8.0, -3.2)], [(6.7, -3.5), (8.0, -3.5)])
INC_BAND_BLACK = ([(6.7, -3.5), (8.0, -3.5)], [(6.7, -4.1), (8.0, -4.1)])
INC_BAND_CYAN = ([(6.7, -2.75), (8.0, -2.75)], [(6.7, -2.95), (8.0, -2.95)])
INC_BAND_YELLOW = ([(6.7, -2.8), (8.0, -2.8)], [(6.7, -3.0), (8.0, -3.0)])
INC_BAND_GREEN = ([(6.7, -2.02), (8.0, -2.02)], [(6.7, -2.28), (8.0, -2.28)])
INC_BAND_DPINK = ([(6.7, -2.22), (8.0, -2.22)], [(6.7, -2.66), (8.0, -2.66)])
INC_BAND_SALMON = ([(6.7, -3.3), (8.0, -3.3)], [(6.7, -4.0), (8.0, -4.15)])
INC_BAND_PURPLE = ([(6.7, -3.0), (8.0, -3.0)], [(6.7, -3.37), (8.0, -3.37)])
INC_BAND_MAROON = ([(6.7, -1.1), (8.0, -1.1)], [(6.7, -1.5), (8.0, -1.5)])
INC_BAND_LGREEN = ([(6.7, -2.62), (8.0, -2.62)], [(6.7, -3.08), (8.0, -3.08)])
INC_BAND_OLIVE = ([(6.7, -1.3), (8.0, -1.3)], [(6.7, -1.8), (8.0, -1.8)])
INC_BAND_PERI = ([(6.46, -1.25), (6.55, -1.15), (6.7, -1.05), (8.0, -1.05)],
                 [(6.46, -2.0), (6.6, -1.9), (6.7, -1.75), (6.86, -1.8), (6.9, -1.97), (8.0, -1.98)])
INC_SPIKES_BLACK = (-3.8, [(6.9, -4.3), (7.1, -4.4), (7.27, -4.41), (7.42, -4.6), (7.52, -4.63), (7.6, -4.3),
                           (7.74, -4.74), (7.8, -4.5), (7.95, -4.4)])
INC_SPIKES_SALMON = (-3.8, [(6.74, -4.69), (6.8, -4.4), (6.87, -4.52), (6.95, -4.3), (7.05, -4.36), (7.14, -4.25),
                            (7.2, -4.3), (7.3, -4.35), (7.39, -4.3), (7.47, -4.3), (7.55, -4.4), (7.63, -5.53),
                            (7.65, -5.12), (7.72, -4.3), (7.79, -4.47), (7.86, -4.63), (7.92, -4.4),
                            (7.99, -4.69)])
INC_SPIKES_LGREEN = (-2.9, [(6.75, -3.2), (6.9, -3.15), (7.1, -3.2), (7.3, -3.15), (7.5, -3.2), (7.7, -3.15),
                            (7.9, -3.2)])
INC_SPIKES_PERI = (-1.5, [(6.5, -2.3), (6.56, -2.5), (6.64, -2.4), (6.73, -2.0), (6.79, -2.05), (6.84, -2.08),
                          (6.9, -2.15), (6.96, -2.12), (7.02, -2.17), (7.09, -2.12), (7.16, -2.15), (7.23, -2.1),
                          (7.3, -2.15), (7.37, -2.12), (7.44, -2.17), (7.51, -2.12), (7.58, -2.15),
                          (7.65, -2.1), (7.72, -2.15), (7.79, -2.12), (7.86, -2.17), (7.93, -2.12),
                          (7.99, -2.15)])

# ---------------------------------------------------------------------------
# Lookup tables built from the arrays above
# ---------------------------------------------------------------------------
G = globals()
def table(prefix):
    return {n: G.get(prefix + n.upper()) for n in NAMES}

SMA, MASS, ECC, INC = table('SMA_'), table('MASS_'), table('ECC_'), table('INC_')
ECC_BANDS, INC_BANDS = table('ECC_BAND_'), table('INC_BAND_')
ECC_SPIKES, INC_SPIKES = table('ECC_SPIKES_'), table('INC_SPIKES_')

DISRUPTION_TIME = 5e6
LW = 8.5          # smooth lines (semi-major axis, mass)
LW_NOISY = 11     # noisy lines (eccentricity, inclination)

fig = go.Figure()


def add_line(pairs, color, ax, log=True, shape='linear', width=LW):
    x = [10 ** p[0] for p in pairs]
    y = [10 ** p[1] if log else p[1] for p in pairs]
    fig.add_trace(go.Scatter(x=x, y=y, mode='lines', xaxis='x' + ax, yaxis='y' + ax,
                             line=dict(color=color, width=width, shape=shape),
                             hoverinfo='skip', showlegend=False))


def add_band(band, color, ax):
    top, bot = band
    pts = list(top) + list(bot)[::-1]
    fig.add_trace(go.Scatter(x=[10 ** p[0] for p in pts], y=[10 ** p[1] for p in pts],
                             mode='lines', fill='toself', fillcolor=color,
                             line=dict(color=color, width=2), xaxis='x' + ax, yaxis='y' + ax,
                             hoverinfo='skip', showlegend=False))


def add_spikes(spk, color, ax):
    base, tips = spk
    x, y = [], []
    for t, v in tips:
        x += [10 ** t, 10 ** t, None]
        y += [10 ** base, 10 ** v, None]
    fig.add_trace(go.Scatter(x=x, y=y, mode='lines', xaxis='x' + ax, yaxis='y' + ax,
                             line=dict(color=color, width=LW_NOISY - 1), hoverinfo='skip', showlegend=False))


for name, col in zip(NAMES, COLORS):
    if SMA[name]:
        add_line(SMA[name], col, '')
    if ECC_BANDS[name] and ECC_BANDS[name][0][0][0] < 6.0:
        add_band(ECC_BANDS[name], col, '2')
    if ECC[name]:
        add_line(ECC[name], col, '2', width=LW_NOISY)
    if ECC_BANDS[name] and ECC_BANDS[name][0][0][0] >= 6.0:
        add_band(ECC_BANDS[name], col, '2')
    if ECC_SPIKES[name]:
        add_spikes(ECC_SPIKES[name], col, '2')
    if MASS[name]:
        add_line(MASS[name], col, '3', log=False, shape='hv')
    if INC[name]:
        add_line(INC[name], col, '4', width=LW_NOISY)
    if INC_BANDS[name]:
        add_band(INC_BANDS[name], col, '4')
    if INC_SPIKES[name]:
        add_spikes(INC_SPIKES[name], col, '4')

# ---------------------------------------------------------------------------
# Axes (plot area = margins; panels laid out inside it)
# ---------------------------------------------------------------------------
FONT = 'DejaVu Sans'
FS = 50
ML, MR, MT, MB = 288, 98, 91, 181
XD_L, XD_R = [0.0, 0.4429], [0.5576, 1.0]
YD_T, YD_B = [0.5196, 1.0], [0.0, 0.4810]


def sup(e):
    return '10<sup>%s</sup>' % (('-' + str(-e)) if e < 0 else str(e))


def minor_vals(lo, hi):
    return [k * 10.0 ** d for d in range(lo, hi) for k in range(2, 10)]


def common():
    return dict(ticks='inside', ticklen=20, tickwidth=3, tickcolor='black',
                showline=True, linecolor='black', linewidth=4, mirror='allticks', showgrid=False,
                zeroline=False, layer='above traces', automargin=False,
                tickfont=dict(family=FONT, size=FS, color='black'))


def xaxis(domain, anchor, labels):
    d = common()
    d.update(type='log', domain=domain, anchor=anchor, range=[5, 8],
             tickmode='array', tickvals=[1e5, 1e6, 1e7, 1e8], ticktext=[sup(e) for e in range(5, 9)],
             showticklabels=labels, ticklabelstandoff=4,
             minor=dict(tickmode='array', tickvals=minor_vals(5, 8), ticks='inside', ticklen=8,
                        tickwidth=2, tickcolor='black', showgrid=False))
    if labels:
        d['title'] = dict(text='Time (years)', font=dict(family=FONT, size=FS, color='black'), standoff=26)
    return d


def ylog(domain, anchor, lo, hi, title, standoff):
    d = common()
    d.update(type='log', domain=domain, anchor=anchor, range=[lo, hi],
             tickmode='array', tickvals=[10.0 ** e for e in range(lo, hi + 1)],
             ticktext=[sup(e) for e in range(lo, hi + 1)],
             minor=dict(tickmode='array', tickvals=minor_vals(lo, hi), ticks='inside', ticklen=8,
                        tickwidth=2, tickcolor='black', showgrid=False),
             title=dict(text=title, font=dict(family=FONT, size=FS, color='black'), standoff=standoff))
    return d


ymass = common()
ymass.update(domain=YD_B, anchor='x3', range=[0, 12], tickmode='array', tickvals=list(range(0, 13, 2)),
             title=dict(text='Mass (Earth)', font=dict(family=FONT, size=FS, color='black'), standoff=12))

fig.update_layout(
    width=2400, height=1800, margin=dict(l=ML, r=MR, t=MT, b=MB, autoexpand=False),
    paper_bgcolor='white', plot_bgcolor='white', showlegend=False,
    font=dict(family=FONT, size=FS, color='black'),
    xaxis=xaxis(XD_L, 'y', False), yaxis=ylog(YD_T, 'x', -2, 2, 'Semi-major Axis (AU)', 16),
    xaxis2=xaxis(XD_R, 'y2', False), yaxis2=ylog(YD_T, 'x2', -6, 0, 'Eccentricity', 20),
    xaxis3=xaxis(XD_L, 'y3', True), yaxis3=ymass,
    xaxis4=xaxis(XD_R, 'y4', True), yaxis4=ylog(YD_B, 'x4', -6, 1, 'Inclination (degrees)', 20),
)

# ---------------------------------------------------------------------------
# Dashed disk-dispersal line and dotted grid (drawn above the data)
# ---------------------------------------------------------------------------
shapes = []
PANELS = [('x', 'y', [1e-1, 1, 10]),
          ('x2', 'y2', [1e-5, 1e-4, 1e-3, 1e-2, 1e-1]),
          ('x3', 'y3', [2, 4, 6, 8, 10]),
          ('x4', 'y4', [1e-5, 1e-4, 1e-3, 1e-2, 1e-1, 1])]
for xa, ya, ygrid in PANELS:
    shapes.append(dict(type='line', xref=xa, yref=ya + ' domain', x0=DISRUPTION_TIME, x1=DISRUPTION_TIME,
                       y0=1, y1=0, layer='above', line=dict(color='#808080', width=10, dash='25px,24px')))
    for gx in [1e6, 1e7]:
        shapes.append(dict(type='line', xref=xa, yref=ya + ' domain', x0=gx, x1=gx, y0=0, y1=1,
                           layer='above', line=dict(color='black', width=2, dash='4px,7px')))
    for gy in ygrid:
        shapes.append(dict(type='line', xref=xa + ' domain', yref=ya, x0=0, x1=1, y0=gy, y1=gy,
                           layer='above', line=dict(color='black', width=2, dash='4px,7px')))
fig.update_layout(shapes=shapes)

fig.write_html('out.html')
